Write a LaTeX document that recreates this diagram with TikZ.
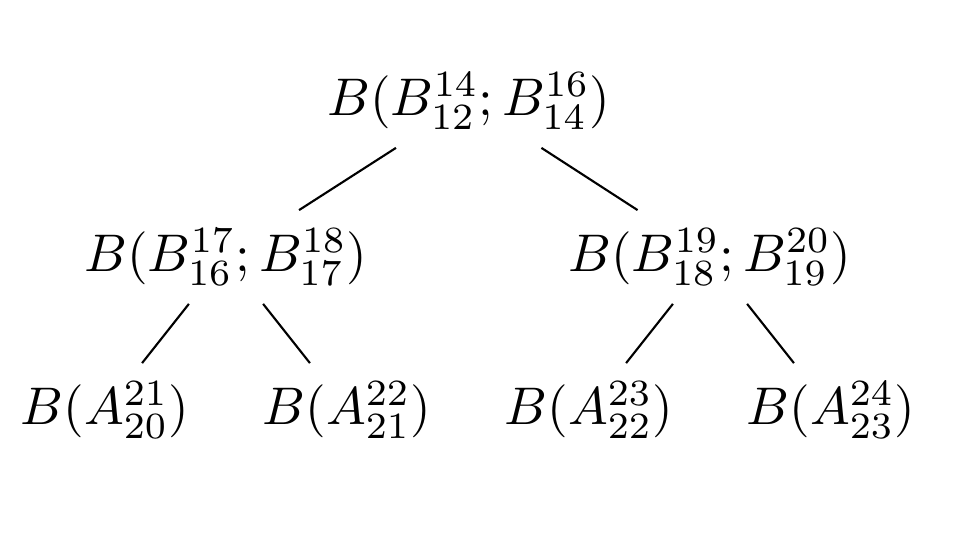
\documentclass[tikz,border=0pt]{standalone}
\usepackage{tikz}

\begin{document}
\begin{tikzpicture}[-,x=0.1887pt,y=-0.1887pt,
  term/.style={inner sep=3.33pt}]

    \useasboundingbox (0, 0) rectangle (954, 544);

    \node[term] (root) at (469, 101) {$B(B^{14}_{12};B^{16}_{14})$};

    \node[term] (l) at (226, 257) {$B(B^{17}_{16};B^{18}_{17})$};
    \node[term] (r) at (710, 257) {$B(B^{19}_{18};B^{20}_{19})$};

    \node[term] (ll) at (105, 410) {$B(A^{21}_{20})$};
    \node[term] (lr) at (347, 410) {$B(A^{22}_{21})$};
    \node[term] (rl) at (589, 410) {$B(A^{23}_{22})$};
    \node[term] (rr) at (831, 410) {$B(A^{24}_{23})$};

    \draw (root) -- (l);
    \draw (root) -- (r);
    \draw (l) -- (ll);
    \draw (l) -- (lr);
    \draw (r) -- (rl);
    \draw (r) -- (rr);

\end{tikzpicture}
\end{document}
